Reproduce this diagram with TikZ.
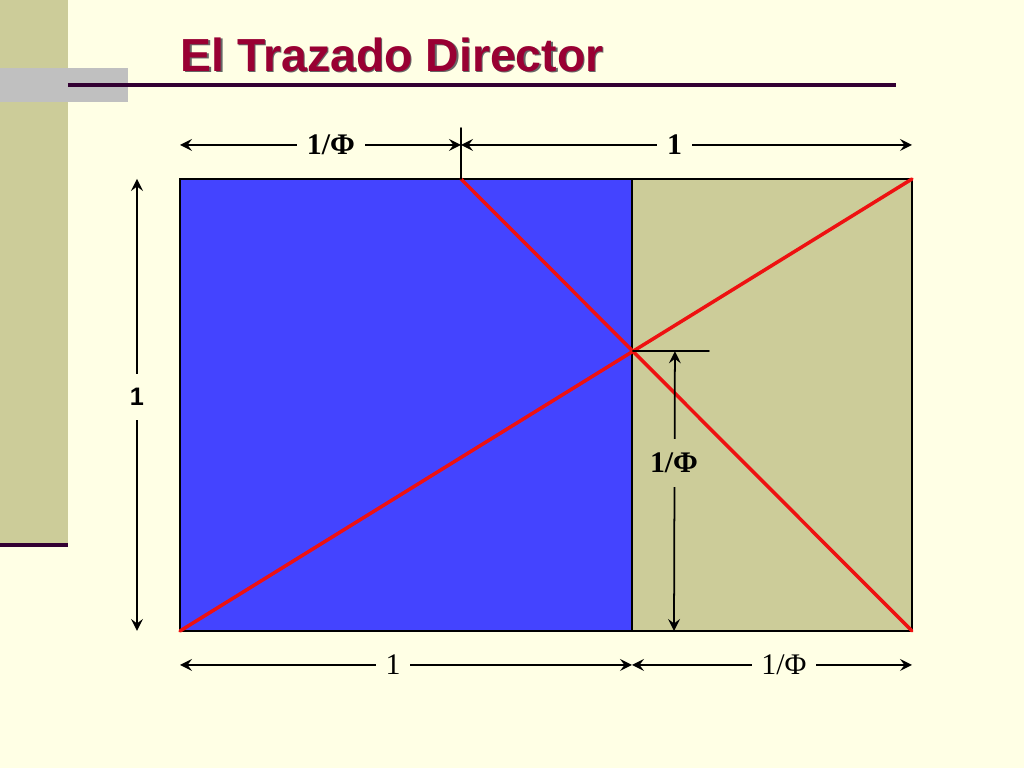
\documentclass[tikz,border=0pt]{standalone}
\usepackage{fontspec}
\usepackage{tkz-euclide}
\setmainfont{Liberation Serif}
\setsansfont{Liberation Sans}
\definecolor{paper}{HTML}{FFFFE5}
\definecolor{khaki}{HTML}{CCCC99}
\definecolor{goldblue}{HTML}{4444FF}
\definecolor{titlered}{HTML}{990033}
\definecolor{plum}{HTML}{330033}
\definecolor{slidegray}{HTML}{C0C0C0}
\definecolor{tracered}{HTML}{EE1111}
\tikzset{
    dimline/.style = {line width=0.5pt, color=black, <->, >=stealth},
    dimlabel/.style = {fill=paper, inner xsep=2.8pt, inner ysep=1pt,
        font=\fontsize{8.5}{10}\selectfont},
}

\begin{document}
\begin{tikzpicture}
    \useasboundingbox[fill=paper] (0,0) rectangle (10.24,7.68);
    % slide decoration
    \fill[khaki] (0,2.23) rectangle (0.68,7.68);
    \draw[plum, line width=1.2pt] (0,2.23) -- (0.68,2.23);
    \fill[slidegray] (0,6.66) rectangle (1.28,7.00);
    \draw[plum, line width=1.2pt] (0.68,6.83) -- (8.96,6.83);
    \node (titleshadow) at (1.815,6.95) [anchor = base west, inner sep=0pt, text=black!60,
        font=\sffamily\bfseries\fontsize{13.2}{15}\selectfont] {El Trazado Director};
    \node (title) at (1.80,6.96) [anchor = base west, inner sep=0pt, text=titlered,
        font=\sffamily\bfseries\fontsize{13.2}{15}\selectfont] {El Trazado Director};

    \tkzDefPoints{1.80/1.37/A, 9.12/1.37/B, 9.12/5.89/C, 1.80/5.89/D,
        6.32/1.37/E, 6.32/5.89/F, 4.61/5.89/G}
    \tkzInterLL(A,C)(G,B) \tkzGetPoint{P}
    \fill[goldblue, draw=black, line width=0.3pt] (A) rectangle (F);
    \fill[khaki, draw=black, line width=0.3pt] (E) rectangle (C);
    \tkzDrawSegment[tracered, line width=1pt](A,C)
    \tkzDrawSegment[tracered, line width=1pt](G,B)

    % dimensions on top
    \tkzDefPoints{1.80/6.23/Ta, 4.61/6.23/Tb, 9.12/6.23/Tc}
    \tkzDefShiftPoint[G](90:0.51){Gt}
    \tkzDrawSegment[line width=0.5pt](G,Gt)
    \tkzDrawSegment[dimline](Ta,Tb)
    \tkzDrawSegment[dimline](Tb,Tc)
    \node[dimlabel, font=\fontsize{8.5}{10}\selectfont\bfseries] (topphi) at (3.31,6.23) {1/Φ};
    \node[dimlabel, font=\fontsize{8.5}{10}\selectfont\bfseries] (topone) at (6.745,6.23) {1};

    % dimension on the left
    \tkzDefPoints{1.37/1.37/La, 1.37/5.89/Lb}
    \tkzDrawSegment[dimline](La,Lb)
    \node[dimlabel, inner ysep=4pt, font=\sffamily\bfseries\fontsize{7.2}{9}\selectfont] (leftone) at (1.37,3.71) {1};

    % dimension inside the khaki part
    \tkzDefShiftPoint[P](0:0.76){Pt}
    \tkzDefShiftPoint[P](0:0.42){Q}
    \tkzDefPoints{6.74/1.37/R}
    \tkzDrawSegment[line width=0.5pt](P,Pt)
    \tkzDrawSegment[dimline](Q,R)
    \node[fill=khaki, inner xsep=2.8pt, inner ysep=4pt,
        font=\fontsize{8.5}{10}\selectfont\bfseries] (innerphi) at (6.74,3.05) {1/Φ};

    % dimensions at the bottom
    \tkzDefPoints{1.80/1.03/Ba, 6.32/1.03/Bb, 9.12/1.03/Bc}
    \tkzDrawSegment[dimline](Ba,Bb)
    \tkzDrawSegment[dimline](Bb,Bc)
    \node[dimlabel] (botone) at (3.93,1.03) {1};
    \node[dimlabel] (botphi) at (7.84,1.03) {1/Φ};
\end{tikzpicture}
\end{document}
